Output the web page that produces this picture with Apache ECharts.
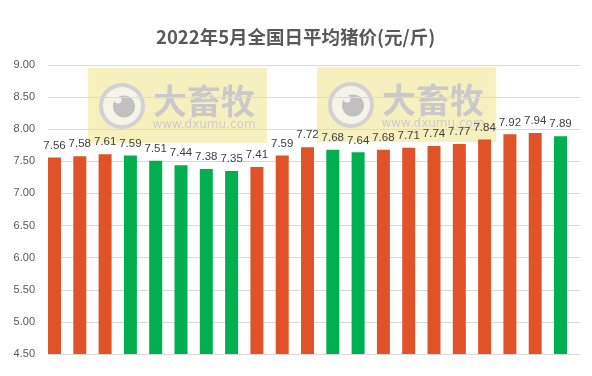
<!DOCTYPE html>
<html><head><meta charset="utf-8">
<script src="https://cdn.jsdelivr.net/npm/echarts@6/dist/echarts.min.js"></script>
<style>html,body{margin:0;padding:0;background:#fff}#c{width:592px;height:376px}</style>
</head><body><div id="c"></div>
<script>
var titleText = '2022年5月全国日平均猪价(元/斤)';
var days = ['5/1','5/2','5/3','5/4','5/5','5/6','5/7','5/8','5/9','5/10','5/11','5/12','5/13','5/14','5/15','5/16','5/17','5/18','5/19','5/20','5/21'];
var prices = [7.56,7.58,7.61,7.59,7.51,7.44,7.38,7.35,7.41,7.59,7.72,7.68,7.64,7.68,7.71,7.74,7.77,7.84,7.92,7.94,7.89];
var yTicks = [4.5,5.0,5.5,6.0,6.5,7.0,7.5,8.0,8.5,9.0];

var UP = '#E05328', DOWN = '#00B050';
var barData = prices.map(function(v,i){
  var up = i === 0 || v >= prices[i-1];
  return {value:[i,v], name:days[i], itemStyle:{color: up ? UP : DOWN}};
});

function watermark(x, y){
  return {type:'group', x:x, y:y, z:100, children:[
    {type:'rect', shape:{x:0,y:0,width:179,height:75}, style:{fill:'rgba(238,226,130,0.42)', shadowBlur:4, shadowColor:'rgba(238,226,130,0.4)'}},
    {type:'circle', shape:{cx:34,cy:38,r:21}, style:{fill:'rgba(245,245,245,0.75)', stroke:'#d2d2d2', lineWidth:4}},
    {type:'circle', shape:{cx:36,cy:38.5,r:11}, style:{fill:'#c0c0c0'}},
    {type:'circle', shape:{cx:30,cy:32,r:3.5}, style:{fill:'#f2f2f2'}},
    {type:'text', style:{x:116,y:33,text:'大畜牧', fill:'#c9c9c9', font:'bold 34px "Noto Sans CJK SC"', align:'center', verticalAlign:'middle'}},
    {type:'text', style:{x:116,y:57,text:'www.dxumu.com', fill:'#cdcdcd', font:'12px "DejaVu Sans"', align:'center', verticalAlign:'middle'}}
  ]};
}

var chart = echarts.init(document.getElementById('c'), null, {renderer:'canvas'});
chart.setOption({
  animation:false,
  backgroundColor:'#fff',
  title:{text:titleText, left:151, top:23, textStyle:{fontFamily:'"Noto Sans CJK SC"', fontSize:18.5, fontWeight:'bold', color:'#595959'}},
  grid:{left:48, right:12, top:65, bottom:22, containLabel:false},
  xAxis:{type:'value', min:-0.257, max:20.77, show:false},
  yAxis:{type:'value', min:yTicks[0], max:yTicks[yTicks.length-1], interval:0.5,
    axisLine:{show:false}, axisTick:{show:false},
    splitLine:{lineStyle:{color:'#D9D9D9', width:1}},
    axisLabel:{margin:13, color:'#595959', fontFamily:'"Liberation Sans"', fontSize:11, formatter:function(v){return v.toFixed(2);}}
  },
  series:[{type:'bar', data:barData, barWidth:13,
    label:{show:true, position:'top', distance:6, color:'#404040', fontFamily:'"Liberation Sans"', fontSize:11.5,
      formatter:function(p){return p.value[1].toFixed(2);}}
  }],
  graphic:[watermark(88,68), watermark(317,67)]
});
</script></body></html>
